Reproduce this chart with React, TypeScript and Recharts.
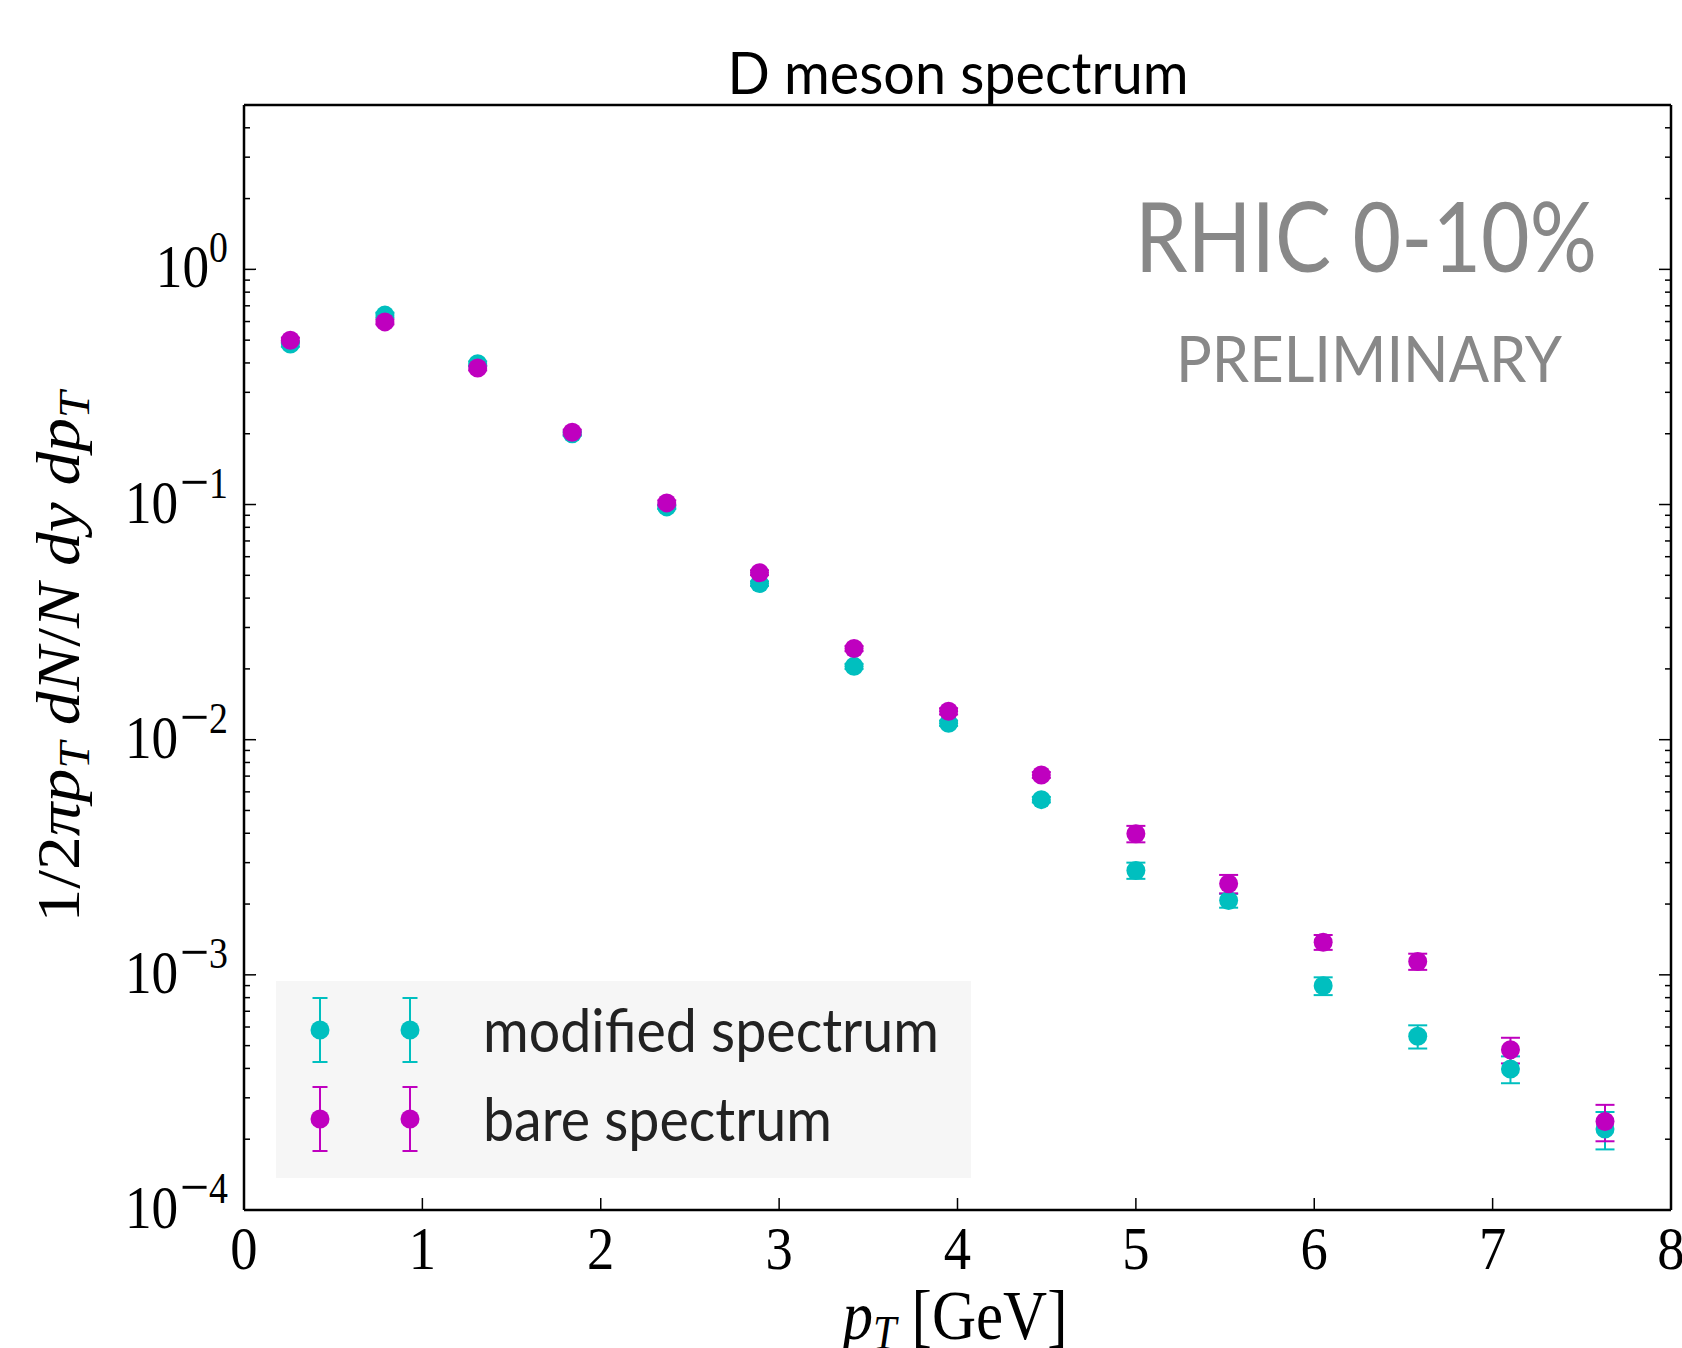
import React from 'react';
import { ScatterChart, Scatter, XAxis, YAxis, ErrorBar, Legend } from 'recharts';

const SERIF = '"Liberation Serif", "DejaVu Serif", serif';
const SANS = 'Lato, "Open Sans", sans-serif';

const CYAN = '#00BFBF';
const MAGENTA = '#BF00BF';

// pT bin centres [GeV]
const ptBins = [0.26, 0.79, 1.31, 1.84, 2.37, 2.89, 3.42, 3.95, 4.47, 5.0, 5.52, 6.05, 6.58, 7.1, 7.63];

const modifiedYield = [0.481, 0.639, 0.397, 0.2, 0.0977, 0.0461, 0.0205, 0.01175, 0.00556, 0.00278, 0.00207, 0.000898, 0.000548, 0.000398, 0.000221];
const modifiedErr = [0.012, 0.015, 0.009, 0.004, 0.002, 0.001, 0.0005, 0.0003, 0.00015, 0.00022, 0.00014, 0.000078, 0.000062, 0.000052, 0.00004];

const bareYield = [0.5, 0.598, 0.381, 0.203, 0.1016, 0.0513, 0.0244, 0.0132, 0.00708, 0.00398, 0.00244, 0.001377, 0.00114, 0.00048, 0.000238];
const bareErr = [0.012, 0.014, 0.009, 0.005, 0.0025, 0.0012, 0.0006, 0.0004, 0.0002, 0.00032, 0.00022, 0.0001, 0.00009, 0.00006, 0.000042];

const seriesNames = ['modified spectrum', 'bare spectrum'];
const legendTextWidth = { 'modified spectrum': 456, 'bare spectrum': 349 };

const xTicks = [0, 1, 2, 3, 4, 5, 6, 7, 8];
const yDecades = [1e-4, 1e-3, 1e-2, 1e-1, 1];
const yMantissas = [2, 3, 4, 5, 6, 7, 8, 9];
const yTicks = [...yDecades, ...yDecades.flatMap((d) => yMantissas.map((m) => m * d)).filter((v) => v <= 5.0001)];

const modifiedData = ptBins.map((pt, i) => ({ pt, y: modifiedYield[i], err: modifiedErr[i] }));
const bareData = ptBins.map((pt, i) => ({ pt, y: bareYield[i], err: bareErr[i] }));

const isMajor = (v) => yDecades.some((d) => Math.abs(v - d) / d < 1e-6);

const BottomTick = ({ x, y, payload }) => (
  <g>
    <line x1={x} y1={y} x2={x} y2={y - 12} stroke="#000" strokeWidth={1.5} />
    <text transform={`translate(${x},${y + 59}) scale(0.88,1)`} textAnchor="middle" fontFamily={SERIF} fontSize={62} fill="#000">
      {payload.value}
    </text>
  </g>
);

const TopTick = ({ x, y }) => <line x1={x} y1={y} x2={x} y2={y + 12} stroke="#000" strokeWidth={1.5} />;

const LeftTick = ({ x, y, payload }) => {
  const major = isMajor(payload.value);
  const exp = Math.round(Math.log10(payload.value));
  return (
    <g>
      <line x1={x} y1={y} x2={x + (major ? 12 : 6)} y2={y} stroke="#000" strokeWidth={1.5} />
      {major && (
        <text transform={`translate(${x - 16},${y + 18}) scale(0.86,1)`} textAnchor="end" fontFamily={SERIF} fontSize={62} fill="#000">
          <tspan>10</tspan>
          {exp === 0 ? (
            <tspan dy={-25} fontSize={44}>0</tspan>
          ) : (
            <>
              <tspan dy={-21} dx={2} fontSize={60}>{'\u2212'}</tspan>
              <tspan dy={-4} fontSize={44}>{-exp}</tspan>
            </>
          )}
        </text>
      )}
    </g>
  );
};

const RightTick = ({ x, y, payload }) => {
  const major = isMajor(payload.value);
  return <line x1={x} y1={y} x2={x - (major ? 12 : 6)} y2={y} stroke="#000" strokeWidth={1.5} />;
};

const Dot = (color) => (p) => <circle cx={p.cx} cy={p.cy} r={9.5} fill={color} />;

const LegendBox = ({ payload }) => {
  const entries = seriesNames
    .map((name) => (payload || []).find((e) => e.value === name))
    .filter(Boolean);
  return (
    <div style={{ width: 695, height: 197, background: '#f6f6f6' }}>
      <svg width={695} height={197}>
        {entries.map((entry, i) => {
          const cy = 49 + i * 89;
          return (
            <g key={entry.value}>
              {[44, 134].map((cx) => (
                <g key={cx}>
                  <line x1={cx} y1={cy - 32} x2={cx} y2={cy + 32} stroke={entry.color} strokeWidth={2} />
                  <line x1={cx - 7.5} y1={cy - 32} x2={cx + 7.5} y2={cy - 32} stroke={entry.color} strokeWidth={2} />
                  <line x1={cx - 7.5} y1={cy + 32} x2={cx + 7.5} y2={cy + 32} stroke={entry.color} strokeWidth={2} />
                  <circle cx={cx} cy={cy} r={9.5} fill={entry.color} />
                </g>
              ))}
              <text x={207} y={cy + 22} fontFamily={SANS} fontSize={60} fill="#222"
                textLength={legendTextWidth[entry.value]} lengthAdjust="spacingAndGlyphs">
                {entry.value}
              </text>
            </g>
          );
        })}
      </svg>
    </div>
  );
};

export default function App() {
  return (
    <div style={{ position: 'absolute', left: 0, top: 0, width: 1682, height: 1348, background: '#fff' }}>
      <ScatterChart width={1682} height={1348} margin={{ top: 104, right: 10, bottom: 137, left: 0 }}>
        <XAxis xAxisId={0} dataKey="pt" type="number" domain={[0, 8]} ticks={xTicks} interval={0} height={1}
          tickSize={0} tickMargin={0} tickLine={false} tick={BottomTick} axisLine={{ stroke: '#000', strokeWidth: 2.5 }} />
        <XAxis xAxisId="top" orientation="top" type="number" domain={[0, 8]} ticks={xTicks} interval={0} height={1}
          tickSize={0} tickMargin={0} tickLine={false} tick={TopTick} axisLine={{ stroke: '#000', strokeWidth: 2.5 }} />
        <YAxis yAxisId={0} dataKey="y" type="number" scale="log" domain={[1e-4, 5]} allowDataOverflow ticks={yTicks} interval={0} width={244}
          tickSize={0} tickMargin={0} tickLine={false} tick={LeftTick} axisLine={{ stroke: '#000', strokeWidth: 2.5 }} />
        <YAxis yAxisId="right" orientation="right" type="number" scale="log" domain={[1e-4, 5]} allowDataOverflow ticks={yTicks} interval={0} width={1}
          tickSize={0} tickMargin={0} tickLine={false} tick={RightTick} axisLine={{ stroke: '#000', strokeWidth: 2.5 }} />
        <Legend layout="horizontal" align="center" verticalAlign="middle" content={LegendBox}
          wrapperStyle={{ left: 276, top: 981, width: 695, height: 197 }} />
        <Scatter name="modified spectrum" data={modifiedData} fill={CYAN} shape={Dot(CYAN)} isAnimationActive={false}>
          <ErrorBar dataKey="err" direction="y" width={9.5} stroke={CYAN} strokeWidth={2} isAnimationActive={false} />
        </Scatter>
        <Scatter name="bare spectrum" data={bareData} fill={MAGENTA} shape={Dot(MAGENTA)} isAnimationActive={false}>
          <ErrorBar dataKey="err" direction="y" width={9.5} stroke={MAGENTA} strokeWidth={2} isAnimationActive={false} />
        </Scatter>
      </ScatterChart>
      <svg width={1682} height={1348} style={{ position: 'absolute', left: 0, top: 0, pointerEvents: 'none' }}>
        <text x={958} y={94} textAnchor="middle" fontFamily={SANS} fontSize={58} fill="#000" textLength={461} lengthAdjust="spacingAndGlyphs">
          D meson spectrum
        </text>
        <text x={1366} y={272} textAnchor="middle" fontFamily={SANS} fontSize={96} fill="#888" textLength={462} lengthAdjust="spacingAndGlyphs">
          RHIC 0-10%
        </text>
        <text x={1369} y={382} textAnchor="middle" fontFamily={SANS} fontSize={63} fill="#888" textLength={386} lengthAdjust="spacingAndGlyphs">
          PRELIMINARY
        </text>
        <text x={955} y={1339} textAnchor="middle" fontFamily={SERIF} fontSize={70} fill="#000" textLength={225} lengthAdjust="spacingAndGlyphs">
          <tspan fontStyle="italic">p</tspan>
          <tspan fontStyle="italic" fontSize={48} dy={10}>T</tspan>
          <tspan dy={-10}> [GeV]</tspan>
        </text>
        <text transform="translate(79,657) rotate(-90)" textAnchor="middle" fontFamily={SERIF} fontSize={62} fill="#000" textLength={531} lengthAdjust="spacingAndGlyphs">
          <tspan>1/2</tspan>
          <tspan fontStyle="italic">πp</tspan>
          <tspan fontStyle="italic" fontSize={44} dy={10}>T</tspan>
          <tspan dy={-10} fontStyle="italic"> dN</tspan>
          <tspan>/</tspan>
          <tspan fontStyle="italic">N dy dp</tspan>
          <tspan fontStyle="italic" fontSize={44} dy={10}>T</tspan>
        </text>
      </svg>
    </div>
  );
}
